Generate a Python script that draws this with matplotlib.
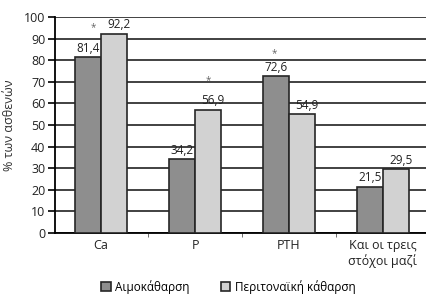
import matplotlib.pyplot as plt
import numpy as np

plt.rcParams['font.family'] = ['Open Sans', 'DejaVu Sans']

categories = ['Ca', 'P', 'PTH', 'Και οι τρεις\nστόχοι μαζί']
haemo = [81.4, 34.2, 72.6, 21.5]
perit = [92.2, 56.9, 54.9, 29.5]
haemo_lbl = ['81,4', '34,2', '72,6', '21,5']
perit_lbl = ['92,2', '56,9', '54,9', '29,5']
# which bars carry a significance star
haemo_star = [False, False, True, False]
perit_star = [True, True, False, False]

fig = plt.figure(figsize=(4.27, 2.94), dpi=100)
ax = fig.add_axes([0.129, 0.2075, 0.871, 0.7347])

x = np.arange(len(categories))
w = 0.28
b1 = ax.bar(x - w/2, haemo, w, color='#8e8e8e', edgecolor='#262626', linewidth=1.2,
            label='Αιμοκάθαρση', zorder=3)
b2 = ax.bar(x + w/2, perit, w, color='#d2d2d2', edgecolor='#262626', linewidth=1.2,
            label='Περιτοναϊκή κάθαρση', zorder=3)

for i in range(len(x)):
    ax.text(x[i] - w/2, haemo[i] + 1.2, haemo_lbl[i], ha='center', va='bottom',
            fontsize=8.5, color='#222222')
    ax.text(x[i] + w/2 + 0.05, perit[i] + 1.2, perit_lbl[i], ha='center', va='bottom',
            fontsize=8.5, color='#222222')
    if haemo_star[i]:
        ax.text(x[i] - w/2 - 0.02, haemo[i] + 8, '*', ha='center', va='bottom',
                fontsize=7, color='#666666')
    if perit_star[i]:
        dx = -0.22 if i == 0 else 0.0
        dy = 0.5 if i == 0 else 11
        ax.text(x[i] + w/2 + dx, perit[i] + dy, '*', ha='center', va='bottom',
                fontsize=7, color='#666666')

ax.set_xlim(-0.49, 3.47)
ax.set_ylim(0, 100)
ax.set_yticks(np.arange(0, 101, 10))
ax.yaxis.grid(True, color='#333333', linewidth=1.3, zorder=0)
ax.set_xticks(x)
ax.set_xticklabels(categories, fontsize=9, color='#222222')
ax.set_xticks([0.5, 1.5, 2.5], minor=True)
ax.tick_params(axis='x', which='major', length=0, pad=4)
ax.tick_params(axis='x', which='minor', length=3, color='#555555')
ax.tick_params(axis='y', length=5, width=1.2, labelsize=9, labelcolor='#222222', pad=2)

for s in ['top', 'right']:
    ax.spines[s].set_visible(False)
ax.spines['left'].set_linewidth(1.3)
ax.spines['bottom'].set_linewidth(1.3)

ax.set_ylabel('% των ασθενών', fontsize=9, color='#333333', labelpad=6)

fig.legend(handles=[b1, b2], loc='lower center', bbox_to_anchor=(0.535, -0.035), ncol=2,
           frameon=False, fontsize=8.5, handlelength=0.8, handleheight=0.8,
           columnspacing=2.6, handletextpad=0.4)

fig.savefig('out.png', dpi=100)
